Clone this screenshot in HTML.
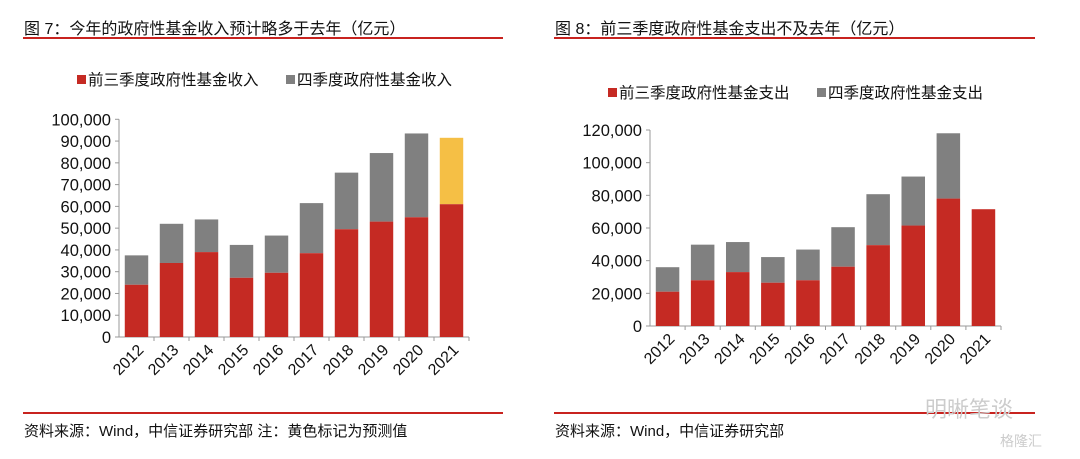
<!DOCTYPE html>
<html><head><meta charset="utf-8"><style>
body{margin:0;background:#fff;width:1080px;height:459px;overflow:hidden}
svg{display:block;font-family:"Liberation Sans","Noto Sans CJK SC",sans-serif}
</style></head><body>
<svg id="s" width="1080" height="459" xmlns="http://www.w3.org/2000/svg">
<g>
<text x="24" y="34" font-size="16" fill="#111">图 7：今年的政府性基金收入预计略多于去年（亿元）</text>
<rect x="23" y="37" width="480" height="2" fill="#c8231f"/>
</g>
<g>
<rect x="77" y="75" width="9" height="9" fill="#c52a23"/>
<text x="88" y="85" font-size="15.5" fill="#111">前三季度政府性基金收入</text>
<rect x="286" y="75" width="9" height="9" fill="#808080"/>
<text x="297" y="85" font-size="15.5" fill="#111">四季度政府性基金收入</text>
</g>
<g>
<text x="555" y="34" font-size="16" fill="#111">图 8：前三季度政府性基金支出不及去年（亿元）</text>
<rect x="554" y="37" width="481" height="2" fill="#c8231f"/>
</g>
<g>
<rect x="608" y="88" width="9" height="9" fill="#c52a23"/>
<text x="619" y="98" font-size="15.5" fill="#111">前三季度政府性基金支出</text>
<rect x="817" y="88" width="9" height="9" fill="#808080"/>
<text x="828" y="98" font-size="15.5" fill="#111">四季度政府性基金支出</text>
</g>
<g>
<rect x="23" y="412" width="480" height="2" fill="#c8231f"/>
<text x="24" y="436" font-size="15" fill="#111">资料来源：Wind，中信证券研究部  注：黄色标记为预测值</text>
<rect x="554" y="412" width="481" height="2" fill="#c8231f"/>
<text x="555" y="436" font-size="15" fill="#111">资料来源：Wind，中信证券研究部</text>
<text x="925" y="417" font-size="22" fill="#ccc">明晰笔谈</text>
<text x="1000" y="446" font-size="14" fill="#ccc">格隆汇</text>
</g>
<g id="L"></g>
<g id="R"></g>
</svg>
<script>
const years = ["2012","2013","2014","2015","2016","2017","2018","2019","2020","2021"];
const revQ13 = [24000,34000,39000,27200,29500,38500,49500,53000,55000,61000];
const revTotal = [37500,52000,54000,42300,46600,61500,75500,84500,93500,91500];
const revTicks = [0,10000,20000,30000,40000,50000,60000,70000,80000,90000,100000];
const expQ13 = [21000,28000,33000,26500,28000,36300,49500,61500,78000,71500];
const expTotal = [36000,49800,51400,42200,46800,60500,80700,91500,118000,71500];
const expTicks = [0,20000,40000,60000,80000,100000,120000];
const NS="http://www.w3.org/2000/svg";
function mk(p,t,a){const e=document.createElementNS(NS,t);for(const k in a)e.setAttribute(k,a[k]);p.appendChild(e);return e;}
function draw(g,x0,x1,y0,yTop,maxV,ticks,q13,tot,prefix,forecastLast){
  const y=v=>y0-(v/maxV)*(y0-yTop);
  const cw=(x1-x0)/years.length, bw=cw*0.67;
  ticks.forEach(t=>{
    const tk=mk(g,"line",{x1:x0-4,x2:x0,y1:y(t),y2:y(t),stroke:"#999"});
    
    
    const tx=mk(g,"text",{x:x0-8,y:y(t)+6,"font-size":16.5,"text-anchor":"end",fill:"#111"});
    tx.textContent=t.toLocaleString("en-US");
    
    
  });
  const ax=mk(g,"line",{x1:x0,x2:x0,y1:yTop,y2:y0,stroke:"#999"});
  
  
  const xa=mk(g,"line",{x1:x0,x2:x1,y1:y0,y2:y0,stroke:"#999"});
  
  
  years.forEach((yr,i)=>{
    const cx=x0+cw*(i+0.5);
    const tk=mk(g,"line",{x1:x0+cw*(i+1),x2:x0+cw*(i+1),y1:y0,y2:y0+4,stroke:"#999"});
    
    
    const top=tot[i]-q13[i];
    if(top>0){
      const r2=mk(g,"rect",{x:cx-bw/2,y:y(tot[i]),width:bw,height:y(q13[i])-y(tot[i]),fill:(forecastLast&&i===years.length-1)?"#f5bf45":"#808080"});
      
      
    }
    const r1=mk(g,"rect",{x:cx-bw/2,y:y(q13[i]),width:bw,height:y0-y(q13[i]),fill:"#c52a23"});
    
    
    const lb=mk(g,"text",{x:cx+8,y:y0+14,"font-size":16,"text-anchor":"end",fill:"#111",transform:`rotate(-45 ${cx+8} ${y0+14})`});
    lb.textContent=yr;
    
    
  });
}
draw(document.getElementById("L"),119,469,337,119.3,100000,revTicks,revQ13,revTotal,"revenue",true);
draw(document.getElementById("R"),650,1001,326,130,120000,expTicks,expQ13,expTotal,"expenditure",false);
</script>
</body></html>
